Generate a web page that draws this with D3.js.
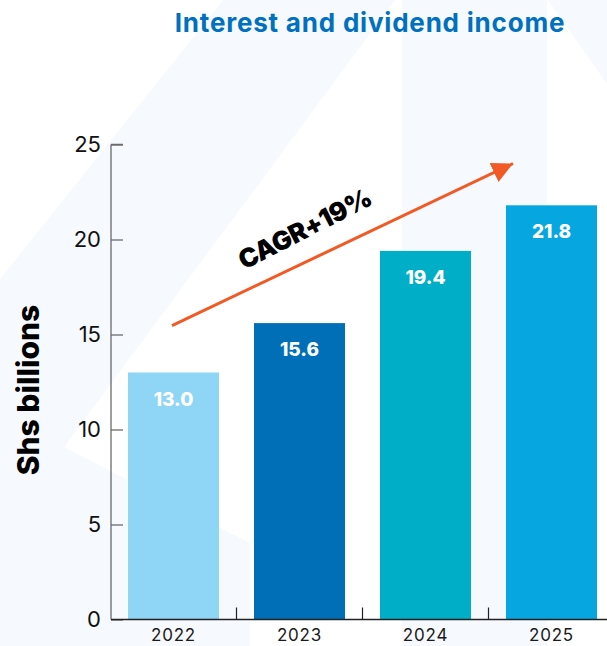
<!DOCTYPE html>
<html>
<head>
<meta charset="utf-8">
<script src="https://cdn.jsdelivr.net/npm/d3@7/dist/d3.min.js"></script>
<style>
  html, body { margin: 0; padding: 0; background: #ffffff; }
  svg { display: block; }
  text { font-family: Inter, "Noto Sans", sans-serif; }
</style>
</head>
<body>
<svg id="chart" width="607" height="646"></svg>
<script>
// ---- data ----
const years = ["2022", "2023", "2024", "2025"];
const values = [13.0, 15.6, 19.4, 21.8];
const barColors = ["#8fd5f5", "#006fb7", "#00aec7", "#06a7e0"];
const yTicks = [0, 5, 10, 15, 20, 25];
const titleText = "Interest and dividend income";
const yTitle = "Shs billions";
const cagrLabel = "CAGR+19%";

const W = 607, H = 646;
const svg = d3.select("#chart");

// ---- faint background watermark ----
const wm = svg.append("g").attr("fill", "#f6f9fd");
wm.append("polygon").attr("points", "223,0 395,0 64,447 250,543 250,646 0,646 0,279");
wm.append("rect").attr("x", 402).attr("y", 0).attr("width", 145).attr("height", H);
wm.append("polygon").attr("points", "548,0 607,0 607,84");

// ---- scales ----
const x = d3.scaleBand().domain(years).range([110.5, 614.5])
  .paddingInner(35 / 126).paddingOuter(17.5 / 126);
const y = d3.scaleLinear().domain([0, 25]).range([619.5, 144.5]);

// ---- title ----
svg.append("text")
  .attr("x", 370).attr("y", 32)
  .attr("text-anchor", "middle")
  .attr("font-size", 26).attr("font-weight", 700)
  .attr("letter-spacing", 0.8)
  .attr("fill", "#0070c0")
  .text(titleText);

// ---- bars ----
svg.append("g").selectAll("rect").data(years).join("rect")
  .attr("x", d => x(d))
  .attr("y", (d, i) => y(values[i]))
  .attr("width", x.bandwidth())
  .attr("height", (d, i) => y(0) - y(values[i]))
  .attr("fill", (d, i) => barColors[i]);

// ---- value labels ----
svg.append("g").selectAll("text").data(years).join("text")
  .attr("x", d => x(d) + x.bandwidth() / 2)
  .attr("y", (d, i) => y(values[i]) + 33)
  .attr("text-anchor", "middle")
  .attr("font-size", 19).attr("font-weight", 800)
  .attr("fill", "#ffffff")
  .text((d, i) => values[i].toFixed(1));

// ---- y axis ----
const yAxis = svg.append("g").attr("transform", "translate(111,0)")
  .call(d3.axisRight(y).tickValues(yTicks).tickSize(12).tickFormat(""));
yAxis.select(".domain").attr("d", `M0,${y(25)}H12M0,${y(25)}V${y(0)}`).attr("stroke", "#6b6b6b").attr("stroke-width", 1.3);
yAxis.selectAll(".tick line").attr("stroke", "#6b6b6b").attr("stroke-width", 1.3);
svg.append("g").selectAll("text").data(yTicks).join("text")
  .attr("x", 101).attr("y", d => y(d))
  .attr("dy", "0.36em")
  .attr("text-anchor", "end")
  .attr("font-size", 22).attr("font-weight", 400)
  .attr("fill", "#111")
  .text(d => d);

// ---- x axis ----
const xAxisG = svg.append("g");
xAxisG.append("line")
  .attr("x1", 111).attr("x2", W)
  .attr("y1", y(0)).attr("y2", y(0))
  .attr("stroke", "#222").attr("stroke-width", 1.4);
xAxisG.selectAll("line.sep").data(years.slice(1)).join("line")
  .attr("class", "sep")
  .attr("x1", d => x(d) - x.step() * x.paddingInner() / 2)
  .attr("x2", d => x(d) - x.step() * x.paddingInner() / 2)
  .attr("y1", y(0)).attr("y2", y(0) - 12)
  .attr("stroke", "#222").attr("stroke-width", 1.2);
xAxisG.selectAll("text").data(years).join("text")
  .attr("x", d => x(d) + x.bandwidth() / 2)
  .attr("y", 641)
  .attr("text-anchor", "middle")
  .attr("font-size", 17).attr("font-weight", 400)
  .attr("letter-spacing", 0.8)
  .attr("fill", "#1a1a1a")
  .text(d => d);

// ---- y title ----
svg.append("text")
  .attr("transform", "translate(39,390) rotate(-90)")
  .attr("text-anchor", "middle")
  .attr("font-size", 30).attr("font-weight", 800)
  .attr("fill", "#000")
  .text(yTitle);

// ---- CAGR arrow ----
const defs = svg.append("defs");
defs.append("marker")
  .attr("id", "head").attr("viewBox", "0 0 10 10")
  .attr("refX", 10).attr("refY", 5)
  .attr("markerWidth", 7).attr("markerHeight", 7)
  .attr("markerUnits", "strokeWidth")
  .attr("orient", "auto")
  .append("path").attr("d", "M0,0L10,5L0,10Z").attr("fill", "#f15a24");

const x0 = x("2022") + x.bandwidth() / 2 - 1.5;
const y0 = y(15.47);
const x1 = x("2025") + 7;
const y1 = y(24.0);
svg.append("line")
  .attr("x1", x0).attr("y1", y0).attr("x2", x1).attr("y2", y1)
  .attr("stroke", "#f15a24").attr("stroke-width", 3)
  .attr("marker-end", "url(#head)");

svg.append("text")
  .attr("transform", "translate(309,237) rotate(-27)")
  .attr("text-anchor", "middle")
  .attr("font-size", 26).attr("font-weight", 900)
  .attr("letter-spacing", -0.5)
  .attr("fill", "#000")
  .text(cagrLabel);
</script>
</body>
</html>
